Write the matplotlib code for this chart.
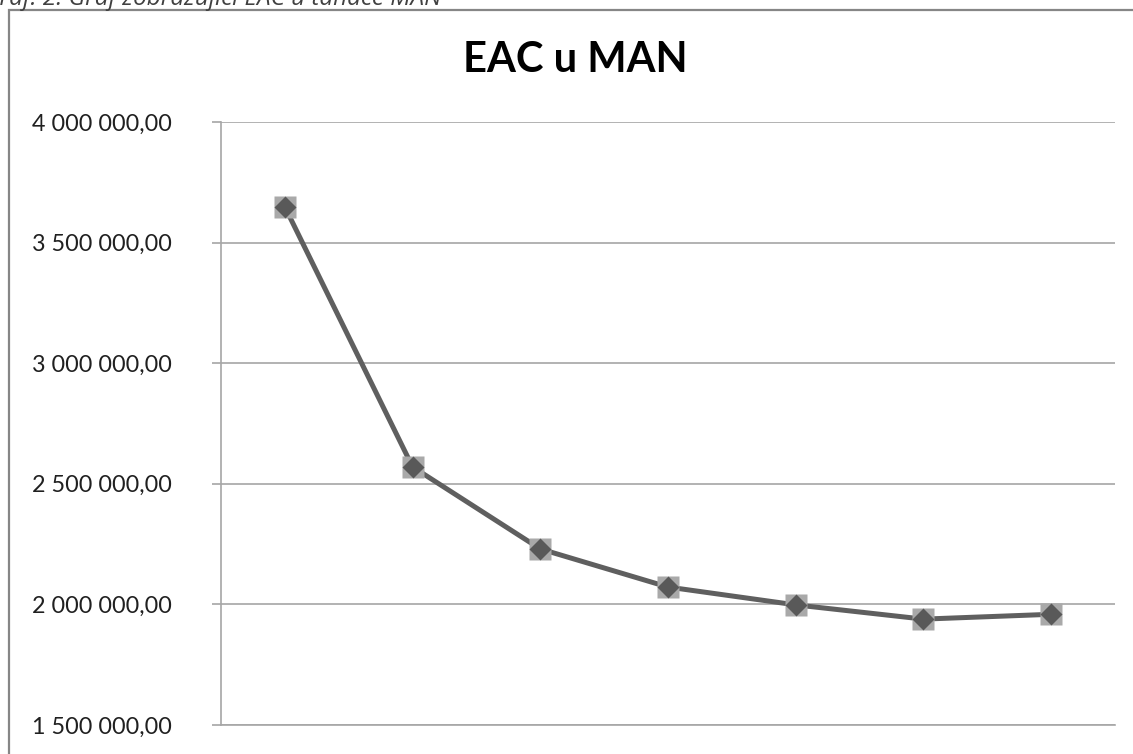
import numpy as np
import matplotlib
matplotlib.use("Agg")
import matplotlib.pyplot as plt
from matplotlib.patches import Rectangle
from matplotlib.ticker import FuncFormatter

# data
years = ["1", "2", "3", "4", "5", "6", "7"]
eac = [3648000, 2570000, 2230000, 2072000, 1998000, 1939000, 1959000]
y_ticks = [1500000, 2000000, 2500000, 3000000, 3500000, 4000000]

title = "EAC u MAN"
caption = "Graf. 2: Graf zobrazující EAC u tahače MAN"

W, H = 1133, 754
DPI = 100

def px(x, y):
    # pixel coords (from top-left) -> figure fraction
    return x / W, 1 - y / H

def fmt_cz(v, pos=None):
    s = f"{v:,.2f}"
    return s.replace(",", " ").replace(".", ",")

fig = plt.figure(figsize=(W / DPI, H / DPI), dpi=DPI)
fig.patch.set_facecolor("white")

# outer chart frame (cropped on the right and bottom)
fig.patches.append(Rectangle(px(8.5, 760), (W + 20) / W, 750 / H,
                             transform=fig.transFigure, fill=False,
                             edgecolor="#868686", linewidth=1.6, zorder=0))

# caption of the figure, mostly cut off at the top
fig.text(*px(-17, 5), caption, fontsize=17.5, style="italic",
         family="Open Sans", color="#404040", va="baseline", ha="left")

left, top, right, bottom = 221, 122, 1115, 725
ax = fig.add_axes([left / W, 1 - bottom / H, (right - left) / W, (bottom - top) / H])

x = np.arange(len(years))
ax.plot(x, eac, color="#5f5f5f", linewidth=3.6, zorder=3)
ax.plot(x, eac, linestyle="none", marker="s", markersize=15.5,
        markerfacecolor="#a9a9a9", markeredgecolor="none", zorder=4)
ax.plot(x, eac, linestyle="none", marker="D", markersize=11.5,
        markerfacecolor="#595959", markeredgecolor="none", zorder=5)

ax.set_xlim(-0.5, len(years) - 0.5)
ax.set_ylim(1500000, 4000000)
ax.set_yticks(y_ticks)
ax.yaxis.set_major_formatter(FuncFormatter(fmt_cz))
ax.set_xticks([])

ax.grid(axis="y", color="#a6a6a6", linewidth=1.2)
ax.set_axisbelow(True)
for side in ["top", "right"]:
    ax.spines[side].set_visible(False)
for side in ["left", "bottom"]:
    ax.spines[side].set_color("#a6a6a6")
    ax.spines[side].set_linewidth(1.2)

ax.tick_params(axis="y", direction="out", length=6.5, width=1.2,
               color="#a6a6a6", pad=29, labelsize=16.8, labelcolor="#202020")
for lab in ax.get_yticklabels():
    lab.set_family("Lato")

fig.text(*px(575, 60), title, fontsize=30, fontweight="bold", family="Lato",
         ha="center", va="center", color="black")

fig.savefig("out.png", dpi=DPI)
